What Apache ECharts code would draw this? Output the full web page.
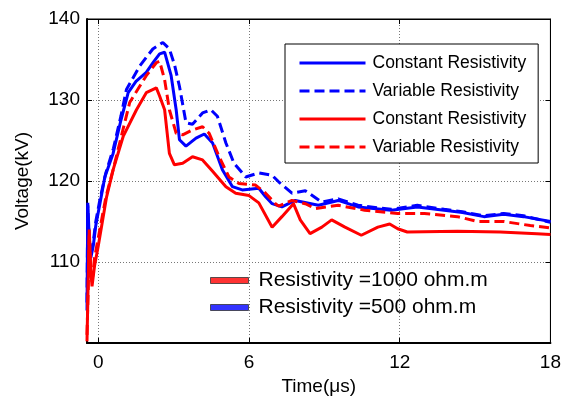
<!DOCTYPE html>
<html>
<head>
<meta charset="utf-8">
<script src="https://cdn.jsdelivr.net/npm/echarts@6/dist/echarts.min.js"></script>
<style>html,body{margin:0;padding:0;background:#fff}#c{width:564px;height:403px}</style>
</head>
<body>
<div id="c"></div>
<script>
// ---- data (time in µs, voltage in kV) ----
const blueConstT = [-0.45,-0.42,-0.36,-0.3,-0.2,-0.1,0.07,0.26,0.59,0.9,1.19,1.5,1.91,2.2,2.44,2.64,2.9,3.1,3.23,3.49,3.89,4.22,4.55,4.94,5.34,5.73,6.39,6.66,6.92,7.31,7.84,8.76,9.55,10.34,11.66,12.7,13.77,14.5,15.35,16.14,16.93,18];
const blueConstV = [104,117.3,113,110.5,112,114.5,117.3,120.5,123.4,127.5,130.9,132.3,133.4,134.7,135.7,135.9,133,128.8,125.1,124.3,125.3,125.8,124.7,121.4,119.3,118.9,119.1,118.05,117.2,116.8,117.6,117,117.6,116.8,116.4,116.8,116.4,116.1,115.6,115.9,115.6,115];

const blueVarT = [-0.45,-0.42,-0.36,-0.3,-0.2,-0.1,0.07,0.3,0.6,0.9,1.12,1.65,2.17,2.57,2.83,3.03,3.23,3.49,3.75,4.15,4.48,4.74,5.08,5.4,5.87,6.39,6.92,7.18,7.71,8.24,8.89,9.55,10.34,11.66,12.7,13.77,14.5,15.35,16.14,16.93,18];
const blueVarV = [105,117,112.5,110.8,112.5,115,117.8,121,124,128,131.3,134.2,136.3,137.1,136.3,134.4,131.7,127.2,127,128.4,128.8,128,124.7,122.2,120.5,121,120.7,119.9,118.5,118.8,117.4,117.8,117,116.5,117,116.5,116.2,115.7,116,115.7,114.9];

const redConstT = [-0.45,-0.4,-0.36,-0.3,-0.25,-0.15,0,0.33,0.6,0.99,1.52,1.91,2.31,2.44,2.64,2.83,3.03,3.36,3.75,4.15,4.55,5.08,5.47,6.0,6.39,6.92,7.31,7.77,8.04,8.43,8.9,9.29,9.82,10.47,11.13,11.6,11.92,12.3,14.3,16,17.46,18];
const redConstV = [100.2,108,114,109,107,109.5,112,118.05,121.5,125.5,128.8,130.9,131.5,130.5,128.8,123.4,122,122.2,123,122.6,121.2,119.3,118.5,118.2,117.3,114.3,115.6,117.2,115.2,113.5,114.3,115.2,114.3,113.3,114.3,114.7,114.1,113.7,113.8,113.7,113.5,113.4];

const redVarT = [-0.45,-0.4,-0.36,-0.3,-0.25,-0.15,0,0.3,0.59,1.25,1.91,2.31,2.44,2.64,2.83,3.1,3.36,3.75,4.15,4.41,4.81,5.2,5.6,6.26,6.66,7.05,7.18,7.71,8.24,8.63,9.55,10.6,11.92,12.98,14.3,15.1,16.14,17.2,18];
const redVarV = [101,107,113.5,108.5,107.5,110.5,113,118,121.4,129.7,133,134.6,134.8,132.5,128.8,125.9,125.7,126.3,126.7,125.9,123,120.5,119.7,119.5,118.5,117.2,116.9,117.6,117.2,116.6,117,116.4,116,116,115.6,115,115,114.5,114.2];

const xTicks = [0, 6, 12, 18];
const yTicks = [110, 120, 130, 140];
const legendNames = {
  bConst: 'Constant Resistivity',
  bVar: 'Variable Resistivity',
  rConst: 'Constant Resistivity',
  rVar: 'Variable Resistivity'
};
const patchNames = ['Resistivity =1000 ohm.m', 'Resistivity =500 ohm.m'];

function pairs(t, v) { return t.map((x, i) => [x, v[i]]); }

const FONT = 'Liberation Sans, Arial, sans-serif';
const chart = echarts.init(document.getElementById('c'), null, {renderer: 'canvas'});

const baseX = {
  type: 'value', min: -0.45, max: 18,
  axisTick: {show: true, inside: true, length: 5, customValues: xTicks, lineStyle: {color: '#000'}},
  splitLine: {show: false}
};
const baseY = {
  type: 'value', min: 100, max: 140, interval: 10,
  axisTick: {show: true, inside: true, length: 5, lineStyle: {color: '#000'}},
  splitLine: {show: false}
};

chart.setOption({
  animation: false,
  backgroundColor: '#fff',
  textStyle: {fontFamily: FONT},
  grid: {left: 87, right: 9, top: 19, bottom: 60, show: true, borderColor: '#000', borderWidth: 1, backgroundColor: 'transparent'},
  xAxis: [
    Object.assign({}, baseX, {
      position: 'bottom',
      name: 'Time(μs)', nameLocation: 'middle', nameGap: 33,
      nameTextStyle: {fontSize: 19, color: '#000', fontFamily: FONT},
      axisLine: {show: true, onZero: false, lineStyle: {color: '#000', width: 2}},
      axisLabel: {show: true, customValues: xTicks, fontSize: 19, color: '#000', margin: 10, fontFamily: FONT},
      splitLine: {show: true, lineStyle: {color: '#777', width: 1, type: [1, 2]}}
    }),
    Object.assign({}, baseX, {
      position: 'top',
      axisLine: {show: true, onZero: false, lineStyle: {color: '#000', width: 1}},
      axisLabel: {show: false}
    })
  ],
  yAxis: [
    Object.assign({}, baseY, {
      position: 'left',
      name: 'Voltage(kV)', nameLocation: 'middle', nameGap: 55, nameRotate: 90,
      nameTextStyle: {fontSize: 19, color: '#000', fontFamily: FONT},
      axisLine: {show: true, onZero: false, lineStyle: {color: '#000', width: 2}},
      axisLabel: {show: true, fontSize: 19, color: '#000', margin: 7, fontFamily: FONT,
        formatter: v => (yTicks.indexOf(v) >= 0 ? String(v) : '')},
      splitLine: {show: true, lineStyle: {color: '#777', width: 1, type: [1, 2]}}
    }),
    Object.assign({}, baseY, {
      position: 'right',
      axisLine: {show: true, onZero: false, lineStyle: {color: '#000', width: 1}},
      axisLabel: {show: false}
    })
  ],
  legend: [
    {
      data: ['bConst', 'bVar', 'rConst', 'rVar'],
      formatter: n => legendNames[n],
      orient: 'vertical', left: 285, top: 44,
      padding: [10, 12, 7, 13],
      itemWidth: 66, itemHeight: 18, itemGap: 10,
      backgroundColor: '#fff', borderColor: '#000', borderWidth: 1, borderRadius: 0,
      selectedMode: false,
      itemStyle: {color: 'rgba(0,0,0,0)', borderColor: 'rgba(0,0,0,0)', borderWidth: 0},
      lineStyle: {width: 3},
      textStyle: {fontSize: 17.5, color: '#000', fontFamily: FONT, lineHeight: 18, padding: [0, 0, 0, 2]}
    },
    {
      data: [
        {name: patchNames[0], icon: 'rect', itemStyle: {color: '#ff0000', borderColor: '#333', borderWidth: 1}},
        {name: patchNames[1], icon: 'rect', itemStyle: {color: '#0000ff', borderColor: '#333', borderWidth: 1}}
      ],
      orient: 'vertical', left: 210, top: 269.5, padding: 0,
      itemWidth: 38, itemHeight: 6, itemGap: 5,
      selectedMode: false,
      textStyle: {fontSize: 21, color: '#000', fontFamily: FONT, lineHeight: 22, padding: [0, 0, 0, 5]}
    }
  ],
  series: [
    {name: 'bConst', type: 'line', data: pairs(blueConstT, blueConstV), showSymbol: false, symbol: 'none', color: '#0000ff', lineStyle: {width: 3, color: '#0000ff'}, z: 3},
    {name: 'bVar', type: 'line', data: pairs(blueVarT, blueVarV), showSymbol: false, symbol: 'none', color: '#0000ff', lineStyle: {width: 3, color: '#0000ff', type: [10, 5]}, z: 4},
    {name: 'rConst', type: 'line', data: pairs(redConstT, redConstV), showSymbol: false, symbol: 'none', color: '#ff0000', lineStyle: {width: 3, color: '#ff0000'}, z: 5},
    {name: 'rVar', type: 'line', data: pairs(redVarT, redVarV), showSymbol: false, symbol: 'none', color: '#ff0000', lineStyle: {width: 3, color: '#ff0000', type: [10, 5]}, z: 6},
    {name: patchNames[0], type: 'scatter', data: [], color: '#ff0000'},
    {name: patchNames[1], type: 'scatter', data: [], color: '#0000ff'}
  ]
});
</script>
</body>
</html>
